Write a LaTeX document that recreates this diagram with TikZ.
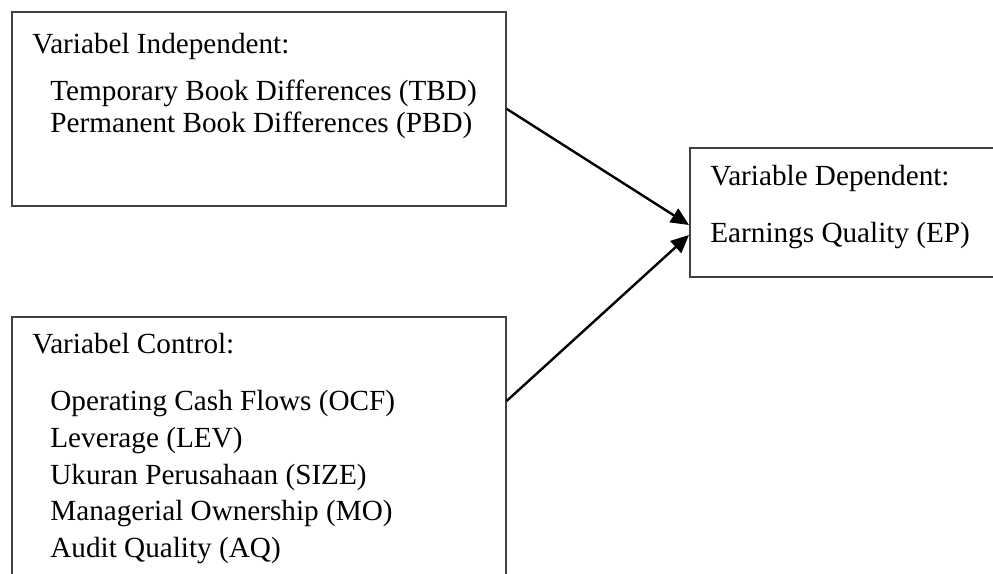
\documentclass[tikz,border=0pt]{standalone}
\usepackage{fontspec}
\setmainfont{Liberation Serif}
\usetikzlibrary{arrows.meta,calc}
\begin{document}
\begin{tikzpicture}[x=0.5pt,y=-0.5pt,
  box/.style={draw=black!75,line width=0.8pt,inner sep=0pt,anchor=north west},
  lbl/.style={anchor=base west,inner sep=0pt,font=\fontsize{14.6}{16}\selectfont},
  link/.style={line width=1.2pt,-{Triangle[length=9pt,width=8pt]}}]
\useasboundingbox (0,0) rectangle (993,574);
\clip (0,0) rectangle (993,574);

% frames
\node[box,minimum width=247pt,minimum height=97pt] (indep) at (11,11) {};
\node[box,minimum width=247pt,minimum height=162pt] (ctrl) at (11,316) {};
\node[box,minimum width=160.5pt,minimum height=64.5pt] (dep) at (689,147) {};

% independent variables
\node[lbl] (t1) at (32,53) {Variabel Independent:};
\node[lbl] (t2) at (50,100) {Temporary Book Differences (TBD)};
\node[lbl] (t3) at (50,132) {Permanent Book Differences (PBD)};

% control variables
\node[lbl] (c0) at (32,353) {Variabel Control:};
\node[lbl] (c1) at (50,410) {Operating Cash Flows (OCF)};
\node[lbl] (c2) at (50,447) {Leverage (LEV)};
\node[lbl] (c3) at (50,484) {Ukuran Perusahaan (SIZE)};
\node[lbl] (c4) at (50,520) {Managerial Ownership (MO)};
\node[lbl] (c5) at (50,557) {Audit Quality (AQ)};

% dependent variable
\node[lbl] (d0) at (710,185) {Variable Dependent:};
\node[lbl] (d1) at (710,242) {Earnings Quality (EP)};

% connectors
\coordinate (ctrlout) at ($(ctrl.north east)+(0,85)$);
\coordinate (depin1) at ($(dep.north west)+(0,78)$);
\coordinate (depin2) at ($(dep.north west)+(0,88)$);
\draw[link] (indep.east) -- (depin1);
\draw[link] (ctrlout) -- (depin2);
\end{tikzpicture}
\end{document}
